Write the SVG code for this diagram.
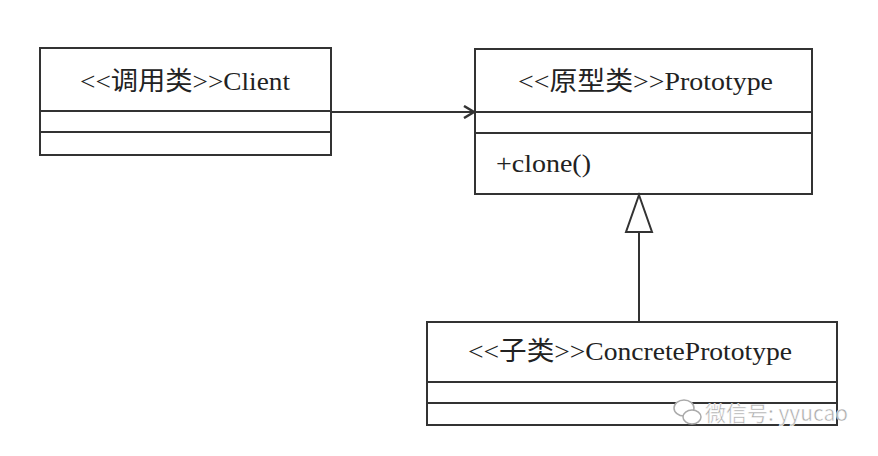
<svg xmlns="http://www.w3.org/2000/svg" width="878" height="456" viewBox="0 0 878 456">
<style>
.box{fill:#fff;stroke:#333;stroke-width:2}
.div{stroke:#333;stroke-width:2}
.t{font-family:"Liberation Serif","Noto Sans CJK SC",serif;font-size:26px;fill:#222}
.wm{font-family:"Noto Sans CJK SC","Liberation Sans",sans-serif;font-size:21px;fill:#aaa;stroke:#fff;stroke-width:0.5}
</style>
<defs>
<marker id="open" markerWidth="14" markerHeight="14" refX="12" refY="7" orient="auto" markerUnits="userSpaceOnUse">
<path d="M2,1 L12,7 L2,13" fill="none" stroke="#333" stroke-width="2.5"/>
</marker>
</defs>
<rect width="878" height="456" fill="#fff"/>
<g id="client">
<rect class="box" x="40" y="48" width="291" height="107"/>
<line class="div" x1="40" y1="111" x2="331" y2="111"/>
<line class="div" x1="40" y1="132" x2="331" y2="132"/>
<text class="t" x="80" y="90" textLength="210" lengthAdjust="spacingAndGlyphs">&lt;&lt;调用类&gt;&gt;Client</text>
</g>
<g id="prototype">
<rect class="box" x="475" y="49" width="337" height="145"/>
<line class="div" x1="475" y1="112" x2="812" y2="112"/>
<line class="div" x1="475" y1="133" x2="812" y2="133"/>
<text class="t" x="518" y="90" textLength="255" lengthAdjust="spacingAndGlyphs">&lt;&lt;原型类&gt;&gt;Prototype</text>
<text class="t" x="496" y="172" textLength="95" lengthAdjust="spacingAndGlyphs">+clone()</text>
</g>
<g id="concrete">
<rect class="box" x="427" y="322" width="410" height="103"/>
<line class="div" x1="427" y1="382" x2="837" y2="382"/>
<line class="div" x1="427" y1="403" x2="837" y2="403"/>
<text class="t" x="468" y="360" textLength="324" lengthAdjust="spacingAndGlyphs">&lt;&lt;子类&gt;&gt;ConcretePrototype</text>
</g>
<g id="connectors">
<line x1="331" y1="112" x2="474" y2="112" stroke="#333" stroke-width="2" marker-end="url(#open)"/>
<line x1="639" y1="232" x2="639" y2="322" stroke="#333" stroke-width="2"/>
<polygon points="639,195 652,232 626,232" fill="#fff" stroke="#333" stroke-width="2"/>
</g>
<g id="watermark">
<ellipse cx="684" cy="408" rx="10" ry="8" fill="#fff" stroke="#aaa" stroke-width="1.5"/>
<ellipse cx="692" cy="417" rx="9" ry="7" fill="#fff" stroke="#aaa" stroke-width="1.5"/>
<text class="wm" x="705" y="421" textLength="143" lengthAdjust="spacingAndGlyphs">微信号: yyucao</text>
</g>
</svg>
